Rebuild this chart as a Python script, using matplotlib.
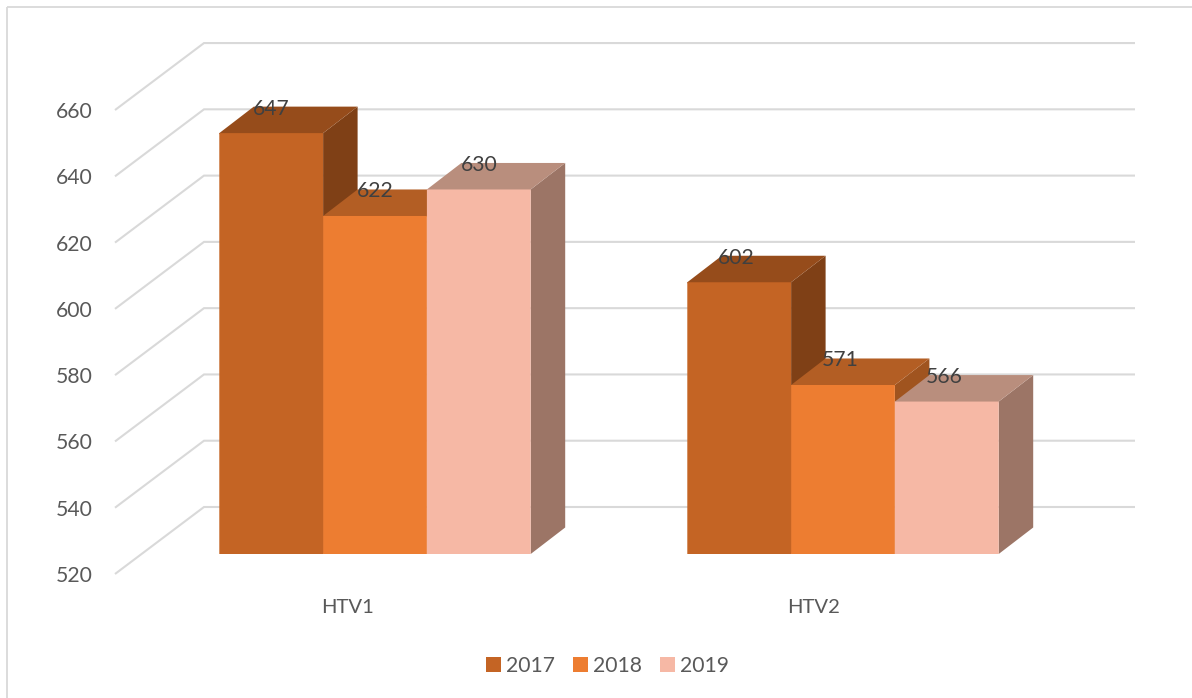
import matplotlib
matplotlib.use("Agg")
import matplotlib.pyplot as plt
from matplotlib.patches import Patch

categories = ["HTV1", "HTV2"]
series = ["2017", "2018", "2019"]
values_2017 = [647, 602]
values_2018 = [622, 571]
values_2019 = [630, 566]
y_ticks = [520, 540, 560, 580, 600, 620, 640, 660]

plt.rcParams["font.family"] = ["Lato", "DejaVu Sans"]

W, H = 1192, 698
PX_X = 103.8          # pixels per bar width
PX_Y = 3.314          # pixels per value unit
X0_PX = 375.0         # pixel x of first category centre
BASE_PX = 554.0       # pixel y of value 520 at bar front
GROUP_STEP = 468 / PX_X  # bar widths between categories


def ux(px):
    return (px - X0_PX) / PX_X


def uy(px):
    return 520 + (BASE_PX - px) / PX_Y


fig = plt.figure(figsize=(W / 100, H / 100), dpi=100, facecolor="white")
ax = fig.add_axes([0, 0, 1, 1])
ax.set_xlim(ux(0), ux(W))
ax.set_ylim(uy(H), uy(0))
ax.axis("off")

DX = 34.5 / PX_X
DY = 26.5 / PX_Y
GRID = "#D9D9D9"
TICK = "#595959"
LABEL = "#404040"
FS = 15.2
TUCK = 1.0 / PX_Y     # top face runs 1 px under the front face, closing the seam

# chart border (only left and top are visible)
ax.plot([ux(6.5), ux(6.5)], [uy(H), uy(6.5)], color=GRID, lw=1.3, solid_capstyle="butt")
ax.plot([ux(6.5), ux(W)], [uy(6.5), uy(6.5)], color=GRID, lw=1.3, solid_capstyle="butt")

# walls: gridlines
WALL_OFF = uy(507) - 520    # back wall offset in value units
FRONT_OFF = uy(574) - 520   # front end of side wall
for v in y_ticks:
    ax.plot([ux(115), ux(204), ux(1135)],
            [v + FRONT_OFF, v + WALL_OFF, v + WALL_OFF],
            color=GRID, lw=1.5, solid_joinstyle="miter", solid_capstyle="butt", zorder=1)
    ax.text(ux(92.5), v + FRONT_OFF, str(v), ha="right", va="center_baseline",
            fontsize=FS, color=TICK)

front = ["#C46424", "#ED7D31", "#F6B8A5"]
top = ["#964C1B", "#B35E24", "#B98E7D"]
side = ["#7F4016", "#A0541F", "#9C7566"]
all_values = [values_2017, values_2018, values_2019]
label_shift_px = [0, -3]
cat_shift_px = [-27, -29]

z = 2
for c, cat in enumerate(categories):
    centre = c * GROUP_STEP
    for s, vals in enumerate(all_values):
        v = vals[c]
        x0 = centre + (s - 1.5)
        x1 = x0 + 1
        ax.fill([x1, x1 + DX, x1 + DX, x1], [520, 520 + DY, v + DY, v], color=side[s], lw=0,
                zorder=z, snap=False)
        ax.fill([x0, x1, x1, x1 + DX, x0 + DX, x0], [v - TUCK, v - TUCK, v, v + DY, v + DY, v],
                color=top[s], lw=0, zorder=z + 0.1, snap=False)
        ax.fill([x0, x1, x1, x0], [520, 520, v, v], color=front[s], lw=0, zorder=z + 0.2, snap=False)
        z += 1
        ax.text(centre + (s - 1.0) + label_shift_px[c] / PX_X, v + DY, str(v),
                ha="center", va="center_baseline", fontsize=FS, color=LABEL, zorder=50)
    ax.text(centre + cat_shift_px[c] / PX_X, uy(606), cat, ha="center", va="center_baseline",
            fontsize=FS - 0.6, color=TICK)

handles = [Patch(facecolor=f, edgecolor="none", label=l) for f, l in zip(front, series)]
ax.legend(handles=handles, loc="center", bbox_to_anchor=(607.8 / W, 1 - 665.5 / H), ncol=3, frameon=False,
          fontsize=FS, labelcolor=TICK, handlelength=0.7, handleheight=0.7,
          handletextpad=0.25, columnspacing=0.85, borderpad=0, borderaxespad=0)

fig.savefig("out.png", dpi=100)
